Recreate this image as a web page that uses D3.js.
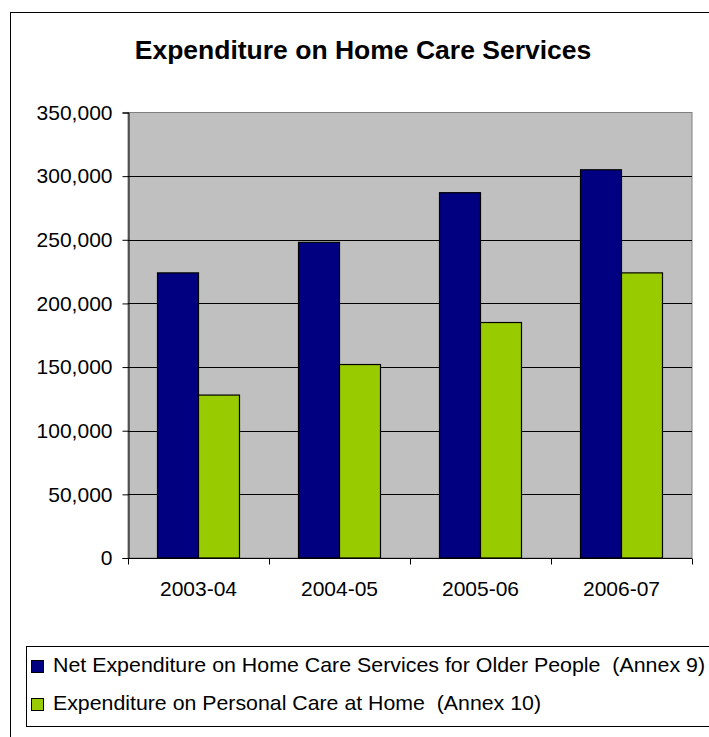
<!DOCTYPE html>
<html><head><meta charset="utf-8">
<script src="https://cdn.jsdelivr.net/npm/d3@7"></script>
<style>body{margin:0;background:#fff}svg{display:block}text{font-family:Arial,"Liberation Sans",sans-serif;fill:#000}</style>
</head><body>
<svg id="c" width="709" height="737"></svg>
<script>
const categories = ["2003-04","2004-05","2005-06","2006-07"];
const seriesNames = ["Net Expenditure on Home Care Services for Older People  (Annex 9)",
                     "Expenditure on Personal Care at Home  (Annex 10)"];
const netExpenditure = [224000, 248000, 287000, 305000];
const personalCare = [128000, 152000, 185000, 224000];
const yTicks = [0,50000,100000,150000,200000,250000,300000,350000];
const colors = ["#000080","#99CC00"];
const title = "Expenditure on Home Care Services";

const svg = d3.select("#c");
const L=128, R=692, T=112.5, B=558;

svg.append("rect").attr("x",10.5).attr("y",12.5).attr("width",720).attr("height",760)
  .attr("fill","#fff").attr("stroke","#000").attr("stroke-width",1);

svg.append("text").attr("x",363).attr("y",59).attr("text-anchor","middle")
  .style("font-weight","bold").style("font-size","26.5px").text(title);

const x0 = d3.scaleBand().domain(categories).range([L,R]).padding(0);
const x1 = d3.scaleBand().domain([0,1]).range([0,x0.bandwidth()]).paddingInner(0).paddingOuter(0.72);
const y = d3.scaleLinear().domain([0,350000]).range([B,T]);

svg.append("rect").attr("x",L).attr("y",T).attr("width",R-L).attr("height",B-T)
  .attr("fill","#C0C0C0").attr("stroke","#808080").attr("stroke-width",1);

svg.append("g").selectAll("line").data(yTicks.filter(d=>d>0 && d<350000)).join("line")
  .attr("x1",L).attr("x2",R).attr("y1",d=>Math.round(y(d))+0.5).attr("y2",d=>Math.round(y(d))+0.5)
  .attr("stroke","#000").attr("stroke-width",1);

const data = categories.map((c,i)=>({c, v:[netExpenditure[i], personalCare[i]]}));
const g = svg.append("g");
data.forEach(d=>{
  d.v.forEach((v,j)=>{
    g.append("rect").attr("x",x0(d.c)+x1(j)).attr("y",y(v))
      .attr("width",x1.bandwidth()).attr("height",B-y(v))
      .attr("fill",colors[j]).attr("stroke","#000").attr("stroke-width",1.2);
  });
});

const yAxis = d3.axisLeft(y).tickValues(yTicks).tickSize(6).tickPadding(10)
  .tickFormat(d3.format(","));
const ya = svg.append("g").attr("transform",`translate(${L+0.5},0)`).call(yAxis);
ya.select(".domain").attr("stroke","#000");
ya.selectAll("text").style("font-size","21px").style("font-family","Arial, 'Liberation Sans', sans-serif").attr("fill","#000");

const xa = svg.append("g").attr("transform",`translate(0,${B+0.5})`);
xa.append("line").attr("x1",L).attr("x2",R).attr("stroke","#000");
const bounds = categories.map(c=>x0(c)).concat([R]);
xa.selectAll("line.t").data(bounds).join("line").attr("class","t")
  .attr("x1",d=>Math.round(d)+0.5).attr("x2",d=>Math.round(d)+0.5).attr("y1",0).attr("y2",6).attr("stroke","#000");
xa.selectAll("text").data(categories).join("text")
  .attr("x",d=>x0(d)+x0.bandwidth()/2).attr("y",37.5).attr("text-anchor","middle")
  .style("font-size","21px").text(d=>d);

const lg = svg.append("g");
lg.append("rect").attr("x",26.5).attr("y",646.5).attr("width",720).attr("height",80)
  .attr("fill","#fff").attr("stroke","#000").attr("stroke-width",1);
const rowsY=[672,710];
const lens=[652,488];
seriesNames.forEach((s,i)=>{
  lg.append("rect").attr("x",31.5).attr("y",rowsY[i]-11.5).attr("width",12).attr("height",12)
    .attr("fill",colors[i]).attr("stroke","#000").attr("stroke-width",1);
  lg.append("text").attr("x",53).attr("y",rowsY[i]).style("font-size","21px")
    .style("white-space","pre").attr("textLength",lens[i]).attr("lengthAdjust","spacingAndGlyphs").text(s);
});
</script>
</body></html>
